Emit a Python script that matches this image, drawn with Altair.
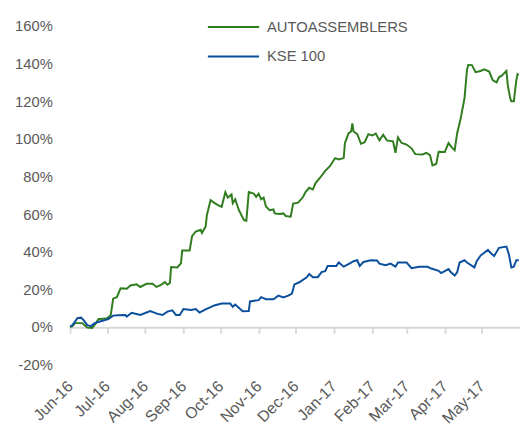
import altair as alt
import pandas as pd

series_names = ["AUTOASSEMBLERS", "KSE 100"]
series_colors = ["#2F7D1E", "#0B4F9C"]

auto_dates = [
    "2016-06-01", "2016-06-03", "2016-06-05", "2016-06-11", "2016-06-15", "2016-06-19",
    "2016-06-22", "2016-06-24", "2016-07-01", "2016-07-04", "2016-07-06", "2016-07-09",
    "2016-07-12", "2016-07-17", "2016-07-20", "2016-07-25", "2016-07-28", "2016-08-02",
    "2016-08-07", "2016-08-10", "2016-08-13", "2016-08-17", "2016-08-19", "2016-08-21",
    "2016-08-22", "2016-08-27", "2016-08-30", "2016-08-31", "2016-09-06", "2016-09-08",
    "2016-09-11", "2016-09-15", "2016-09-16", "2016-09-19", "2016-09-20", "2016-09-23",
    "2016-09-26", "2016-09-29", "2016-10-02", "2016-10-05", "2016-10-07", "2016-10-10",
    "2016-10-11", "2016-10-13", "2016-10-16", "2016-10-20", "2016-10-22", "2016-10-24",
    "2016-10-28", "2016-10-30", "2016-11-01", "2016-11-03", "2016-11-05", "2016-11-07",
    "2016-11-10", "2016-11-13", "2016-11-14", "2016-11-18", "2016-11-21", "2016-11-23",
    "2016-11-27", "2016-11-29", "2016-12-03", "2016-12-07", "2016-12-09", "2016-12-12",
    "2016-12-15", "2016-12-17", "2016-12-21", "2016-12-25", "2016-12-29", "2017-01-02",
    "2017-01-05", "2017-01-09", "2017-01-10", "2017-01-13", "2017-01-15", "2017-01-16",
    "2017-01-17", "2017-01-20", "2017-01-23", "2017-01-26", "2017-01-29", "2017-02-01",
    "2017-02-04", "2017-02-07", "2017-02-10", "2017-02-13", "2017-02-18", "2017-02-20",
    "2017-02-22", "2017-02-25", "2017-03-01", "2017-03-05", "2017-03-08", "2017-03-14",
    "2017-03-17", "2017-03-20", "2017-03-22", "2017-03-25", "2017-03-27", "2017-04-01",
    "2017-04-04", "2017-04-07", "2017-04-09", "2017-04-11", "2017-04-14", "2017-04-17",
    "2017-04-19", "2017-04-20", "2017-04-23", "2017-04-26", "2017-04-30", "2017-05-03",
    "2017-05-07", "2017-05-10", "2017-05-13", "2017-05-15", "2017-05-17", "2017-05-21",
    "2017-05-22", "2017-05-24", "2017-05-25", "2017-05-27", "2017-05-29", "2017-05-30",
    "2017-05-31",
]
auto_values = [
    0.0, 0.5, 2.1, 2.1, -0.3, -0.5,
    2.1, 4.2, 4.7, 6.3, 15.1, 15.9,
    20.6, 20.4, 22.1, 22.7, 21.3, 23.0,
    23.0, 21.3, 22.1, 23.9, 22.5, 23.4,
    31.9, 31.7, 33.9, 40.7, 40.7, 48.3,
    50.8, 51.7, 50.0, 53.4, 59.5, 67.4,
    66.0, 64.8, 63.9, 71.7, 68.8, 70.5,
    65.8, 67.9, 62.1, 56.9, 56.4, 71.7,
    70.9, 69.2, 70.9, 67.9, 68.8, 63.9,
    62.1, 62.5, 60.4, 60.1, 60.4, 59.0,
    58.7, 65.6, 66.1, 69.1, 71.7, 74.0,
    73.1, 76.4, 79.5, 83.0, 85.6, 89.8,
    89.1, 89.8, 97.8, 103.0, 103.9, 108.3,
    103.9, 102.5, 97.4, 98.2, 102.5, 101.8,
    102.8, 99.2, 102.2, 99.2, 98.7, 92.6,
    100.8, 97.8, 97.0, 95.0, 91.9, 91.7,
    92.6, 91.4, 85.9, 86.7, 93.2, 93.0,
    97.8, 95.2, 94.0, 102.9, 111.2, 121.7,
    136.8, 139.3, 139.2, 135.5, 136.1, 137.0,
    135.8, 131.1, 130.0, 132.9, 133.5, 136.1,
    129.0, 121.7, 120.0, 120.0, 131.1, 134.4,
    133.9,
]

kse_dates = [
    "2016-06-01", "2016-06-03", "2016-06-07", "2016-06-10", "2016-06-12", "2016-06-15",
    "2016-06-18", "2016-06-21", "2016-06-26", "2016-07-02", "2016-07-06", "2016-07-10",
    "2016-07-16", "2016-07-17", "2016-07-21", "2016-07-28", "2016-08-05", "2016-08-11",
    "2016-08-15", "2016-08-19", "2016-08-23", "2016-08-26", "2016-08-29", "2016-09-01",
    "2016-09-07", "2016-09-11", "2016-09-14", "2016-09-19", "2016-09-26", "2016-10-02",
    "2016-10-09", "2016-10-11", "2016-10-13", "2016-10-19", "2016-10-24", "2016-10-25",
    "2016-11-01", "2016-11-03", "2016-11-07", "2016-11-13", "2016-11-17", "2016-11-21",
    "2016-11-25", "2016-11-28", "2016-11-30", "2016-12-04", "2016-12-10", "2016-12-12",
    "2016-12-15", "2016-12-19", "2016-12-22", "2016-12-25", "2016-12-27", "2017-01-03",
    "2017-01-05", "2017-01-09", "2017-01-14", "2017-01-17", "2017-01-20", "2017-01-22",
    "2017-01-25", "2017-01-31", "2017-02-05", "2017-02-07", "2017-02-12", "2017-02-16",
    "2017-02-20", "2017-02-22", "2017-03-01", "2017-03-05", "2017-03-11", "2017-03-18",
    "2017-03-21", "2017-03-27", "2017-03-29", "2017-04-04", "2017-04-06", "2017-04-09",
    "2017-04-11", "2017-04-13", "2017-04-17", "2017-04-19", "2017-04-25", "2017-04-27",
    "2017-04-30", "2017-05-06", "2017-05-08", "2017-05-11", "2017-05-15", "2017-05-21",
    "2017-05-23", "2017-05-25", "2017-05-27", "2017-05-29", "2017-05-31",
]
kse_values = [
    0.3, 1.0, 4.7, 5.0, 3.7, 1.0,
    0.5, 2.1, 3.1, 4.2, 6.1, 6.3,
    6.4, 5.6, 7.6, 6.4, 8.5, 7.0,
    6.4, 8.2, 8.9, 6.4, 6.4, 9.6,
    9.1, 9.6, 7.7, 9.4, 11.5, 12.5,
    12.5, 10.8, 12.0, 8.4, 8.5, 13.6,
    14.3, 15.9, 14.8, 14.8, 16.7, 15.7,
    16.7, 17.8, 22.7, 23.8, 26.4, 28.2,
    26.5, 26.5, 29.2, 29.7, 32.5, 32.5,
    34.3, 32.1, 33.9, 35.0, 35.5, 32.5,
    34.6, 35.5, 35.4, 33.7, 32.9, 33.7,
    32.1, 34.3, 34.3, 31.3, 32.1, 32.0,
    31.1, 29.9, 28.7, 30.8, 29.1, 27.4,
    29.1, 34.3, 35.5, 34.3, 31.7, 35.1,
    38.0, 41.0, 39.5, 37.8, 42.1, 42.8,
    38.6, 31.7, 32.1, 35.5, 35.5,
]

y_ticks = [-20, 0, 20, 40, 60, 80, 100, 120, 140, 160]
month_ticks = [(2016, m) for m in range(6, 13)] + [(2017, m) for m in range(1, 6)]

df = pd.concat([
    pd.DataFrame({"date": auto_dates, "value": auto_values, "series": series_names[0]}),
    pd.DataFrame({"date": kse_dates, "value": kse_values, "series": series_names[1]}),
], ignore_index=True)

text_color = "#595959"
font = "Liberation Sans"
plot_h = 344
zero_offset = -round(plot_h * 20 / 180)

chart = alt.Chart(df).mark_line(strokeWidth=2, interpolate="linear").encode(
    x=alt.X(
        "date:T",
        title=None,
        scale=alt.Scale(
            type="utc",
            domain=[alt.DateTime(year=2016, month=6, date=1, utc=True),
                    alt.DateTime(year=2017, month=6, date=1, utc=True)],
        ),
        axis=alt.Axis(
            values=[alt.DateTime(year=y, month=m, date=1, utc=True) for y, m in month_ticks],
            format="%b-%y",
            labelAngle=-45,
            labelAlign="right",
            labelBaseline="middle",
            labelPadding=51,
            labelFont=font,
            labelFontSize=16,
            labelColor=text_color,
            domainColor="#D9D9D9",
            domainWidth=2,
            tickColor="#D9D9D9",
            tickWidth=2,
            tickSize=6,
            grid=False,
            offset=zero_offset,
            labelOverlap=False,
            labelFlush=False,
        ),
    ),
    y=alt.Y(
        "value:Q",
        title=None,
        scale=alt.Scale(domain=[-20, 160], nice=False, zero=False),
        axis=alt.Axis(
            values=y_ticks,
            labelExpr="datum.value + '%'",
            domain=False,
            ticks=False,
            tickSize=0,
            grid=False,
            labelPadding=18,
            labelFont=font,
            labelFontSize=15,
            labelColor=text_color,
        ),
    ),
    color=alt.Color(
        "series:N",
        scale=alt.Scale(domain=series_names, range=series_colors),
        sort=series_names,
        legend=alt.Legend(
            title=None,
            orient="none",
            legendX=152,
            legendY=-13,
            symbolType="M-2,0H2",
            symbolSize=676,
            symbolStrokeWidth=2,
            labelOffset=20,
            rowPadding=8,
            padding=0,
            labelFont=font,
            labelFontSize=15,
            labelColor=text_color,
            labelBaseline="middle",
            labelLimit=300,
        ),
    ),
).properties(
    width=457,
    height=plot_h,
    autosize=alt.AutoSizeParams(type="none"),
    padding={"left": 63, "top": 15, "right": 0, "bottom": 60},
).configure_view(stroke=None)

chart.save("out.html", embed_options={"renderer": "svg", "actions": False})
